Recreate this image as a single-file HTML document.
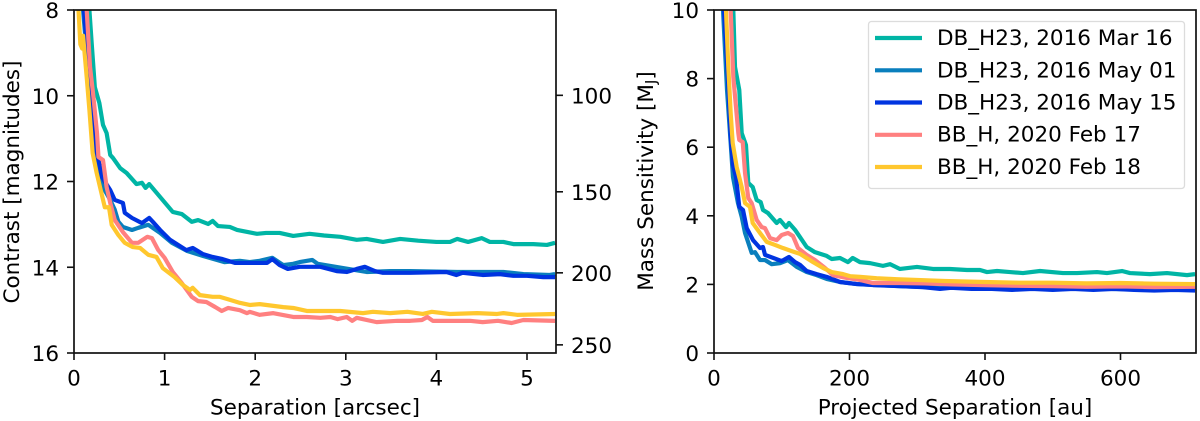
<!DOCTYPE html>
<html lang="en">
<head>
<meta charset="utf-8">
<title>Contrast and mass sensitivity curves</title>
<style>
html,body{margin:0;padding:0;background:#fff;width:1200px;height:421px;overflow:hidden}
svg{display:block;filter:blur(0.35px)}
text{font-family:"DejaVu Sans","Liberation Sans",sans-serif;fill:#000}
.tick{font-size:21.5px}
.label{font-size:21.5px}
.leg{font-size:21.5px}
</style>
</head>
<body>
<svg id="figure" xmlns="http://www.w3.org/2000/svg" width="1200" height="421" viewBox="0 0 1200 421">
  <defs>
    <clipPath id="clip-left"><rect x="74" y="10" width="482" height="343"/></clipPath>
    <clipPath id="clip-right"><rect x="714" y="10" width="482" height="343"/></clipPath>
  </defs>
  <g id="left-lines" clip-path="url(#clip-left)"></g>
  <g id="right-lines" clip-path="url(#clip-right)"></g>
  <g id="left-axes"></g>
  <g id="right-axes"></g>
  <rect x="74" y="10" width="482" height="343" fill="none" stroke="#111" stroke-width="1.7"/>
  <rect x="714" y="10" width="482" height="343" fill="none" stroke="#111" stroke-width="1.7"/>
  <text class="label" x="315" y="414.500" text-anchor="middle">Separation [arcsec]</text>
  <text class="label" transform="translate(19,182) rotate(-90)" text-anchor="middle">Contrast [magnitudes]</text>
  <text class="label" x="955" y="414.500" text-anchor="middle">Projected Separation [au]</text>
  <text class="label" transform="translate(653,181) rotate(-90)" text-anchor="middle">Mass Sensitivity [M<tspan font-size="15" dy="3">J</tspan><tspan dy="-3">]</tspan></text>
  <g>
    <rect x="868.5" y="21.5" width="316" height="167" rx="3" fill="#fff" fill-opacity="0.85" stroke="#dcdcdc" stroke-width="1.3"/>
    <g><line x1="875" x2="922" y1="38" y2="38" stroke="#00b5a5" stroke-width="4.2"/><text class="leg" x="937" y="45">DB_H23, 2016 Mar 16</text></g>
    <g><line x1="875" x2="922" y1="70.300" y2="70.300" stroke="#0a7fbd" stroke-width="4.2"/><text class="leg" x="937" y="77.300">DB_H23, 2016 May 01</text></g>
    <g><line x1="875" x2="922" y1="102.500" y2="102.500" stroke="#0034e0" stroke-width="4.2"/><text class="leg" x="937" y="109.500">DB_H23, 2016 May 15</text></g>
    <g><line x1="875" x2="922" y1="134.800" y2="134.800" stroke="#ff8080" stroke-width="4.2"/><text class="leg" x="937" y="141.700">BB_H, 2020 Feb 17</text></g>
    <g><line x1="875" x2="922" y1="167" y2="167" stroke="#ffc72e" stroke-width="4.2"/><text class="leg" x="937" y="174">BB_H, 2020 Feb 18</text></g>
  </g>
</svg>
<script>
// Axis tick labels
const contrastXTicks = [0, 1, 2, 3, 4, 5];
const contrastYTicks = [8, 10, 12, 14, 16];
const separationAuTicks = [100, 150, 200, 250];
const separationAuTickContrast = [9.99, 12.24, 14.13, 15.81];
const massXTicks = [0, 200, 400, 600];
const massYTicks = [0, 2, 4, 6, 8, 10];

// Left panel: separation [arcsec] and contrast [mag]
const tealSep = [0.14,0.17,0.195,0.23,0.28,0.32,0.36,0.40,0.43,0.51,0.58,0.69,0.75,0.79,0.83,0.95,1.09,1.19,1.30,1.37,1.48,1.53,1.59,1.72,1.80,1.92,2.02,2.12,2.27,2.42,2.6,2.76,2.94,3.12,3.23,3.41,3.6,3.8,4.0,4.15,4.23,4.35,4.5,4.59,4.74,4.85,5.07,5.22,5.31];
const tealMag = [7.5,8.0,8.77,9.8,10.17,10.68,10.87,11.38,11.45,11.69,11.8,12.06,12.03,12.15,12.06,12.36,12.71,12.76,12.94,12.9,12.99,12.92,13.04,13.06,13.13,13.18,13.22,13.2,13.2,13.27,13.22,13.26,13.29,13.36,13.34,13.41,13.34,13.38,13.41,13.41,13.34,13.41,13.32,13.41,13.41,13.46,13.46,13.48,13.43];
const midBlueSep = [0.10,0.155,0.2,0.25,0.32,0.40,0.45,0.49,0.54,0.64,0.71,0.82,0.95,1.08,1.25,1.43,1.66,1.83,1.94,2.05,2.19,2.31,2.42,2.49,2.63,2.69,2.97,3.23,3.49,3.71,4.23,4.74,4.96,5.25,5.31];
const midBlueMag = [8,9.4,10.68,11.5,12.13,12.43,12.66,12.94,13.06,13.13,13.08,13.01,13.2,13.43,13.62,13.74,13.88,13.85,13.88,13.85,13.78,13.95,13.92,13.88,13.83,13.92,14.02,14.11,14.09,14.09,14.11,14.11,14.16,14.18,14.16];
const darkBlueSep = [0.11,0.155,0.19,0.21,0.27,0.31,0.40,0.45,0.54,0.56,0.64,0.75,0.83,0.87,0.95,1.06,1.24,1.31,1.42,1.53,1.64,1.78,1.91,2.13,2.19,2.27,2.36,2.49,2.72,2.9,3.01,3.12,3.21,3.32,3.41,3.71,4.11,4.22,4.29,4.51,4.70,4.85,5.0,5.18,5.31];
const darkBlueMag = [8,9.17,10.33,10.87,11.5,11.9,12.2,12.43,12.5,12.73,12.85,12.97,12.85,12.94,13.13,13.36,13.6,13.55,13.69,13.76,13.81,13.9,13.9,13.9,13.81,13.95,14.04,13.99,13.99,14.09,14.11,14.04,13.99,14.09,14.13,14.13,14.11,14.18,14.13,14.18,14.16,14.2,14.2,14.23,14.23];
const pinkSep = [0.14,0.177,0.21,0.254,0.27,0.32,0.36,0.40,0.45,0.54,0.64,0.71,0.81,0.86,0.93,1.0,1.09,1.19,1.30,1.37,1.46,1.56,1.63,1.70,1.83,1.91,1.94,2.05,2.2,2.42,2.57,2.72,2.83,2.91,3.01,3.07,3.12,3.34,3.57,3.71,3.84,3.9,3.96,4.15,4.37,4.51,4.68,4.83,4.96,5.31];
const pinkMag = [8,9.33,9.94,10.87,11.43,11.5,12.13,12.5,12.9,13.18,13.43,13.43,13.29,13.32,13.6,13.78,14.11,14.37,14.69,14.79,14.81,14.93,15.02,14.95,15.0,15.07,15.04,15.11,15.07,15.16,15.16,15.18,15.16,15.21,15.16,15.25,15.18,15.28,15.25,15.25,15.23,15.16,15.25,15.25,15.25,15.28,15.25,15.3,15.23,15.25];
const yellowSep = [0.05,0.07,0.09,0.10,0.14,0.17,0.206,0.25,0.287,0.34,0.386,0.416,0.49,0.56,0.65,0.73,0.82,0.91,0.98,1.11,1.2,1.28,1.31,1.39,1.53,1.61,1.69,1.83,1.94,2.05,2.31,2.42,2.57,2.94,3.19,3.3,3.49,3.68,3.85,3.95,4.15,4.45,4.67,4.74,4.89,5.31];
const yellowMag = [8,8.8,8.9,8.6,9.56,10.33,11.34,11.8,12.13,12.6,12.6,13.01,13.25,13.43,13.53,13.55,13.71,13.76,14.02,14.23,14.41,14.53,14.48,14.65,14.69,14.69,14.74,14.83,14.88,14.86,14.93,14.95,15.02,15.02,15.07,15.04,15.07,15.04,15.09,15.04,15.09,15.07,15.09,15.07,15.11,15.09];

// Right panel: projected separation [au] and mass sensitivity [MJ]
const tealAu = [28.5,31,37.3,40.9,47.2,50.6,57.1,63,68.9,72.3,79.7,92.5,97.4,106.3,110.7,119.6,126.9,136.8,149,166.3,173.7,186,197.8,204.7,215.5,230.3,249.4,259.8,274.5,299.6,323.2,348.3,373.4,392.6,403,417.7,436.9,456,481.2,515,535.8,565.3,580,602.2,614,643.5,668.6,698.2,710];
const tealMass = [10,8.34,7.67,6.41,6.06,4.96,4.84,4.46,4.4,4.17,4.08,3.79,3.88,3.67,3.79,3.59,3.38,3.09,2.94,2.83,2.74,2.77,2.65,2.77,2.65,2.62,2.54,2.59,2.45,2.51,2.45,2.45,2.42,2.42,2.36,2.39,2.36,2.33,2.39,2.33,2.33,2.36,2.33,2.39,2.33,2.3,2.33,2.27,2.3];
const midBlueAu = [13.3,19.2,24.6,28,35.4,40.9,45.8,55.6,60.5,67.9,75.3,85.2,97.4,109.2,122.1,136.8,151.6,166.3,186,210.6,274.5,340,420,500,580,650,710];
const midBlueMass = [10,7.67,6.12,5.13,4.37,3.97,3.5,2.92,2.94,2.71,2.71,2.59,2.62,2.71,2.51,2.36,2.27,2.16,2.07,2.01,1.95,1.9,1.89,1.87,1.87,1.85,1.85];
const darkBlueAu = [14.8,20.7,24.6,28,32.5,37.3,42.8,48.3,57.6,67.9,72.3,75.3,99.9,110.7,119.6,126.9,136.8,151.6,166.3,186,210.6,234.7,274.5,308.5,333.6,350,380,410,440,470,500,530,560,590,620,650,680,710];
const darkBlueMass = [10,7.96,6.3,5.48,5.13,4.26,4.17,3.64,3.29,3.06,3.09,2.86,2.68,2.8,2.65,2.57,2.39,2.3,2.22,2.07,2.01,1.98,1.95,1.92,1.87,1.9,1.87,1.87,1.84,1.87,1.84,1.87,1.84,1.87,1.84,1.82,1.84,1.82];
const pinkAu = [24.6,28.5,35.9,37.3,42.4,45.8,50.6,55.6,63,70.4,75.3,82.7,92.5,99.9,109.2,116.6,124,136.8,149,163.8,175.6,195.9,215.5,234.7,274.5,310,350,400,450,500,550,600,650,710];
const pinkMass = [10,8.05,6.41,6.21,6.15,5.25,4.52,4.37,3.88,3.67,3.64,3.35,3.29,3.44,3.5,3.41,3.06,2.86,2.71,2.48,2.27,2.19,2.13,2.04,2.04,2.03,2.0,1.98,1.96,1.95,1.93,1.94,1.92,1.93];
const yellowAu = [17.7,21.1,24.6,27.6,33.5,40.9,45.8,53.1,57.1,67.9,77.8,90,101.8,114.7,126.9,146.1,160.9,173.7,190.4,200.7,215.5,240,270,300,340,400,450,500,550,600,650,710];
const yellowMass = [10,8.34,7,6.12,5.42,4.84,4.37,4.26,3.79,3.5,3.24,3.15,3.06,2.97,2.89,2.65,2.48,2.36,2.3,2.24,2.22,2.18,2.15,2.13,2.1,2.07,2.05,2.05,2.03,2.04,2.02,2.01];

const NS = 'http://www.w3.org/2000/svg';
function xLeft(v){ return 74 + v * 90.6; }
function yLeft(v){ return 10 + (v - 8) * 42.875; }
function xRight(v){ return 714 + v * 0.6775; }
function yRight(v){ return 353 - v * 34.3; }

function drawLine(parent, xs, ys, fx, fy, color, name){
  const d = xs.map(function(x, i){ return (i ? 'L' : 'M') + fx(x).toFixed(2) + ' ' + fy(ys[i]).toFixed(2); }).join('');
  const p = document.createElementNS(NS, 'path');
  p.setAttribute('d', d);
  p.setAttribute('fill', 'none');
  p.setAttribute('stroke', color);
  p.setAttribute('stroke-width', '4.2');
  p.setAttribute('stroke-linejoin', 'round');
  
  
  parent.appendChild(p);
}

function drawTick(parent, x1, y1, x2, y2, tx, ty, anchor, label, name){
  const l = document.createElementNS(NS, 'line');
  l.setAttribute('x1', x1);
  l.setAttribute('y1', y1);
  l.setAttribute('x2', x2);
  l.setAttribute('y2', y2);
  l.setAttribute('stroke', '#111');
  l.setAttribute('stroke-width', '1.6');
  
  
  parent.appendChild(l);
  const t = document.createElementNS(NS, 'text');
  t.setAttribute('x', tx);
  t.setAttribute('y', ty);
  t.setAttribute('text-anchor', anchor);
  t.setAttribute('class', 'tick');
  
  
  t.textContent = label;
  parent.appendChild(t);
}

const leftLines = document.getElementById('left-lines');
const rightLines = document.getElementById('right-lines');
const leftAxes = document.getElementById('left-axes');
const rightAxes = document.getElementById('right-axes');

drawLine(leftLines, tealSep, tealMag, xLeft, yLeft, '#00b5a5', 'contrast-2016-mar-16');
drawLine(leftLines, midBlueSep, midBlueMag, xLeft, yLeft, '#0a7fbd', 'contrast-2016-may-01');
drawLine(leftLines, darkBlueSep, darkBlueMag, xLeft, yLeft, '#0034e0', 'contrast-2016-may-15');
drawLine(leftLines, pinkSep, pinkMag, xLeft, yLeft, '#ff8080', 'contrast-2020-feb-17');
drawLine(leftLines, yellowSep, yellowMag, xLeft, yLeft, '#ffc72e', 'contrast-2020-feb-18');

drawLine(rightLines, tealAu, tealMass, xRight, yRight, '#00b5a5', 'mass-2016-mar-16');
drawLine(rightLines, midBlueAu, midBlueMass, xRight, yRight, '#0a7fbd', 'mass-2016-may-01');
drawLine(rightLines, darkBlueAu, darkBlueMass, xRight, yRight, '#0034e0', 'mass-2016-may-15');
drawLine(rightLines, pinkAu, pinkMass, xRight, yRight, '#ff8080', 'mass-2020-feb-17');
drawLine(rightLines, yellowAu, yellowMass, xRight, yRight, '#ffc72e', 'mass-2020-feb-18');

contrastXTicks.forEach(function(v){
  const x = xLeft(v);
  drawTick(leftAxes, x, 353, x, 360, x, 385.5, 'middle', String(v), 'left-x-tick-' + v);
});
contrastYTicks.forEach(function(v){
  const y = yLeft(v);
  drawTick(leftAxes, 74, y, 67, y, 59, y + 8, 'end', String(v), 'left-y-tick-' + v);
});
separationAuTicks.forEach(function(v, i){
  const y = yLeft(separationAuTickContrast[i]);
  drawTick(leftAxes, 556, y, 563, y, 571, y + 8, 'start', String(v), 'left-secondary-y-tick-' + v);
});
massXTicks.forEach(function(v){
  const x = xRight(v);
  drawTick(rightAxes, x, 353, x, 360, x, 385.5, 'middle', String(v), 'right-x-tick-' + v);
});
massYTicks.forEach(function(v){
  const y = yRight(v);
  drawTick(rightAxes, 714, y, 707, y, 699, y + 8, 'end', String(v), 'right-y-tick-' + v);
});
</script>
</body>
</html>
